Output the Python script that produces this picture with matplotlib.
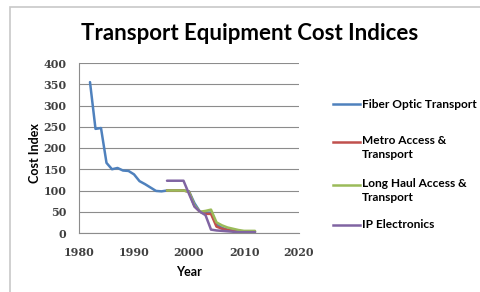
import matplotlib
matplotlib.use("Agg")
import matplotlib.pyplot as plt
from matplotlib.lines import Line2D
from matplotlib.patches import Rectangle

# ---------- data ----------
fiber_years = list(range(1982, 2013))
fiber_vals = [355, 245, 247, 165, 150, 153, 147, 146, 138, 122, 115, 107, 99, 98,
              100, 100, 100, 100, 98, 70, 50, 48, 48, 20, 12, 8, 6, 4, 3, 3, 3]

new_years = list(range(1996, 2013))
metro_vals = [100, 100, 100, 100, 97, 63, 50, 45, 45, 15, 10, 7, 5, 4, 3, 3, 3]
longhaul_vals = [100, 100, 100, 100, 97, 65, 50, 52, 55, 25, 18, 13, 10, 7, 5, 5, 5]
ip_vals = [123, 123, 123, 123, 92, 62, 50, 42, 8, 6, 5, 4, 3, 2, 2, 2, 2]

series = [
    ("Fiber Optic Transport", fiber_years, fiber_vals, "#4F81BD"),
    ("Metro Access &\nTransport", new_years, metro_vals, "#C0504D"),
    ("Long Haul Access &\nTransport", new_years, longhaul_vals, "#9BBB59"),
    ("IP Electronics", new_years, ip_vals, "#8064A2"),
]

W, H = 481, 292
fig = plt.figure(figsize=(W / 100, H / 100), dpi=100)
fig.patch.set_facecolor("white")

# chart border (cut off at right and bottom like the source)
fig.add_artist(Rectangle((10 / W, -0.1), 1.2, (H - 7) / H + 0.1,
                         transform=fig.transFigure, fill=False,
                         ec="#c8c8c8", lw=1.2))

ax = fig.add_axes([79 / W, 59 / H, 220 / W, 170 / H])
for label, xs, ys, c in series:
    ax.plot(xs, ys, color=c, lw=1.8, solid_joinstyle="round", solid_capstyle="round")

ax.set_xlim(1980, 2020)
ax.set_ylim(0, 400)
ax.set_xticks(range(1980, 2021, 10))
ax.set_yticks(range(0, 401, 50))
ax.grid(axis="y", color="#8c8c8c", lw=0.8)
ax.set_axisbelow(True)
for s in ["top", "right"]:
    ax.spines[s].set_visible(False)
for s in ["left", "bottom"]:
    ax.spines[s].set_color("#8c8c8c")
    ax.spines[s].set_linewidth(0.8)
ax.tick_params(axis="x", length=0, pad=10)
ax.tick_params(axis="y", length=0, pad=9)
ax.tick_params(labelsize=8, labelcolor="#404040")
for t in ax.get_xticklabels() + ax.get_yticklabels():
    t.set_family("DejaVu Serif")
    t.set_fontweight("bold")

ax.set_xlabel("Year", family="Lato", fontweight="bold", fontsize=9)
ax.set_ylabel("Cost Index", family="Lato", fontweight="bold", fontsize=9)
ax.xaxis.set_label_coords(0.5, -0.229)
ax.xaxis.label.set_va("center")
ax.yaxis.set_label_coords(-0.2, 0.47)
ax.yaxis.label.set_va("center")

fig.text(250 / W, 1 - 33 / H, "Transport Equipment Cost Indices", family="Lato",
         fontweight="bold", fontsize=16, ha="center", va="center")

# legend drawn by hand so the key lines sit on the first text line
leg_y = [104, 142, 185, 225]
for (label, xs, ys, c), y in zip(series, leg_y):
    yf = 1 - y / H
    fig.add_artist(Line2D([333 / W, 360 / W], [yf, yf], transform=fig.transFigure,
                          color=c, lw=1.8))
    if "\n" in label:
        fig.text(362 / W, yf + 7 / H, label, family="Lato", fontweight="bold",
                 fontsize=8.6, ha="left", va="top", linespacing=1.35)
    else:
        fig.text(362 / W, yf, label, family="Lato", fontweight="bold",
                 fontsize=8.6, ha="left", va="center")

fig.savefig("out.png", dpi=100)
